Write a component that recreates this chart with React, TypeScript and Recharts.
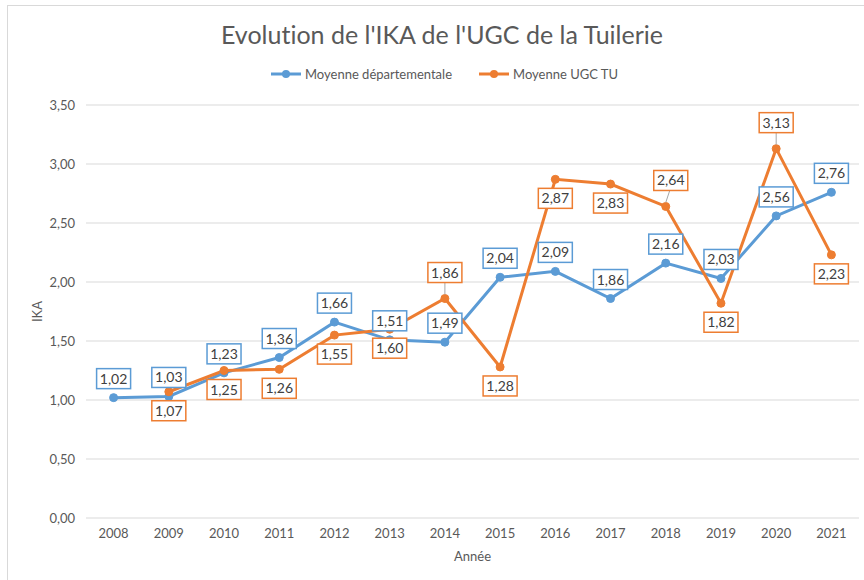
import React from 'react';
import { LineChart, Line, XAxis, YAxis, CartesianGrid, LabelList } from 'recharts';

const years = ['2008', '2009', '2010', '2011', '2012', '2013', '2014', '2015', '2016', '2017', '2018', '2019', '2020', '2021'];
const moyenneDepartementale = [1.02, 1.03, 1.23, 1.36, 1.66, 1.51, 1.49, 2.04, 2.09, 1.86, 2.16, 2.03, 2.56, 2.76];
const moyenneUgcTu: (number | null)[] = [null, 1.07, 1.25, 1.26, 1.55, 1.6, 1.86, 1.28, 2.87, 2.83, 2.64, 1.82, 3.13, 2.23];
const yTicks = [0, 0.5, 1, 1.5, 2, 2.5, 3, 3.5];

// label placement (style only)
const bluePlacement = years.map(() => 'above');
const orangePlacement = ['none', 'below', 'below', 'below', 'below', 'below', 'leader', 'below', 'below', 'below', 'leaderRight', 'below', 'leader', 'below'];

const data = years.map((y, i) => ({
  year: y,
  dep: moyenneDepartementale[i],
  ugc: moyenneUgcTu[i],
}));

const BLUE = '#5B9BD5';
const ORANGE = '#ED7D31';
const FONT = 'Lato, "Open Sans", sans-serif';

const fmt = (v: number) => v.toFixed(2).replace('.', ',');

const makeLabel = (color: string, placement: string[]) => (props: any) => {
  const { x, y, value, index } = props;
  if (value == null || x == null || y == null) return null;
  const p = placement[index];
  if (p === 'none') return null;
  const w = 34;
  const h = 20;
  let cx = x;
  let cy = y - 19;
  let leader: React.ReactNode = null;
  if (p === 'below') cy = y + 19;
  if (p === 'leader') {
    cy = y - 26;
    leader = <line x1={cx} y1={cy + h / 2} x2={x} y2={y - 4} stroke="#A6A6A6" strokeWidth={1} />;
  }
  if (p === 'leaderRight') {
    cx = x + 5;
    cy = y - 26;
    leader = <line x1={cx - 1} y1={cy + h / 2} x2={x} y2={y - 4} stroke="#A6A6A6" strokeWidth={1} />;
  }
  return (
    <g key={`lab-${color}-${index}`}>
      {leader}
      <rect x={cx - w / 2} y={cy - h / 2} width={w} height={h} fill="#FFFFFF" stroke={color} strokeWidth={1.5} />
      <text x={cx} y={cy + 5} textAnchor="middle" fontSize={14} fill="#404040" fontFamily={FONT}>
        {fmt(value)}
      </text>
    </g>
  );
};

const LegendItem = ({ color, label }: { color: string; label: string }) => (
  <div style={{ display: 'flex', alignItems: 'center', marginRight: 26 }}>
    <svg width={32} height={10} style={{ marginRight: 3 }}>
      <line x1={1} y1={5} x2={31} y2={5} stroke={color} strokeWidth={3} />
      <circle cx={16} cy={5} r={4} fill={color} />
    </svg>
    <span>{label}</span>
  </div>
);

export default function App() {
  return (
    <div style={{ position: 'absolute', left: 0, top: 0, width: 864, height: 580, overflow: 'hidden', background: '#FFFFFF', fontFamily: FONT }}>
      <div style={{ position: 'absolute', left: 7, top: 5, width: 870, height: 590, border: '1px solid #D9D9D9', boxSizing: 'border-box' }} />
      <div
        style={{
          position: 'absolute',
          left: 0,
          top: 19,
          width: 884,
          textAlign: 'center',
          fontSize: 25,
          color: '#595959',
          fontVariantLigatures: 'none',
          fontFeatureSettings: '"liga" 0, "clig" 0, "dlig" 0, "calt" 0',
        }}
      >
        Evolution de l'IKA de l'UGC de la Tuilerie
      </div>
      <div style={{ position: 'absolute', left: 270, top: 66, display: 'flex', fontSize: 13, color: '#595959' }}>
        <LegendItem color={BLUE} label="Moyenne départementale" />
        <LegendItem color={ORANGE} label="Moyenne UGC TU" />
      </div>
      <div style={{ position: 'absolute', left: 0, top: 0 }}>
        <LineChart width={864} height={580} data={data} margin={{ top: 105, right: 5, bottom: 32, left: 0 }}>
          <CartesianGrid vertical={false} stroke="#D9D9D9" />
          <XAxis
            dataKey="year"
            height={30}
            axisLine={false}
            tickLine={false}
            tickSize={0}
            tickMargin={11}
            padding={{ left: 27.6, right: 27.6 }}
            tick={{ fill: '#595959', fontSize: 13, fontFamily: FONT }}
            interval={0}
            label={{
              content: (p: any) => {
                const vb = p.viewBox || {};
                return (
                  <text x={vb.x + vb.width / 2} y={vb.y + 43} textAnchor="middle" fontSize={13} fill="#595959" fontFamily={FONT}>
                    Année
                  </text>
                );
              },
            }}
          />
          <YAxis
            width={86}
            domain={[0, 3.5]}
            ticks={yTicks}
            axisLine={false}
            tickLine={false}
            tickSize={0}
            tickMargin={11}
            tickFormatter={(v: number) => fmt(v)}
            tick={{ fill: '#595959', fontSize: 13, fontFamily: FONT }}
            label={{
              content: (p: any) => {
                const vb = p.viewBox || {};
                const cx = 37;
                const cy = vb.y + vb.height / 2;
                return (
                  <text x={cx} y={cy} transform={`rotate(-90 ${cx} ${cy})`} textAnchor="middle" dominantBaseline="central" fontSize={13} fill="#595959" fontFamily={FONT}>
                    IKA
                  </text>
                );
              },
            }}
          />
          <Line
            type="linear"
            dataKey="dep"
            name="Moyenne départementale"
            stroke={BLUE}
            strokeWidth={3}
            dot={{ r: 4, fill: BLUE, stroke: BLUE, strokeWidth: 1 }}
            activeDot={false}
            isAnimationActive={false}
          />
          <Line
            type="linear"
            dataKey="ugc"
            name="Moyenne UGC TU"
            stroke={ORANGE}
            strokeWidth={3}
            dot={{ r: 4, fill: ORANGE, stroke: ORANGE, strokeWidth: 1 }}
            activeDot={false}
            isAnimationActive={false}
          />
          <Line dataKey="dep" stroke="none" dot={false} activeDot={false} legendType="none" isAnimationActive={false}>
            <LabelList dataKey="dep" content={makeLabel(BLUE, bluePlacement)} />
          </Line>
          <Line dataKey="ugc" stroke="none" dot={false} activeDot={false} legendType="none" isAnimationActive={false}>
            <LabelList dataKey="ugc" content={makeLabel(ORANGE, orangePlacement)} />
          </Line>
        </LineChart>
      </div>
    </div>
  );
}
